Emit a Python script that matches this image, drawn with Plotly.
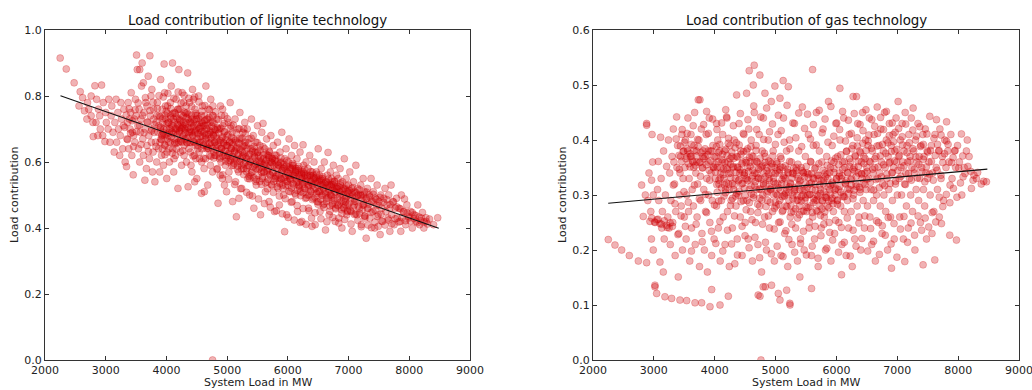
import plotly.graph_objects as go
from plotly.subplots import make_subplots

# --- Lignite: (system load in MW, load contribution), outer spread ---
lignite_points = [
    (2250, 0.915), (2350, 0.882), (2480, 0.840), (2580, 0.813), (2620, 0.795), (2700, 0.78), (2720, 0.76),
    (2650, 0.755), (2760, 0.80), (2790, 0.72), (2795, 0.677), (2690, 0.73), (2560, 0.77), (2760, 0.74),
    (2822, 0.831), (2932, 0.833), (2850, 0.79), (2880, 0.76), (2900, 0.74), (2910, 0.70), (2950, 0.68),
    (2987, 0.662), (2960, 0.78), (3000, 0.75), (3010, 0.72), (3040, 0.70), (3050, 0.79), (3070, 0.66),
    (3090, 0.74), (3100, 0.77), (3120, 0.69), (3140, 0.63), (3150, 0.72), (3170, 0.79), (3180, 0.66),
    (3200, 0.75), (3210, 0.70), (3230, 0.62), (3240, 0.68), (3250, 0.78), (3260, 0.73), (3280, 0.64),
    (3290, 0.71), (3300, 0.76), (2840, 0.72), (2870, 0.68),
    (3320, 0.60), (3343, 0.586), (3350, 0.67), (3360, 0.72), (3370, 0.78), (3380, 0.64), (3400, 0.70),
    (3410, 0.75), (3420, 0.81), (3430, 0.62), (3453, 0.561), (3460, 0.68), (3470, 0.73), (3480, 0.66),
    (3490, 0.79), (3508, 0.924), (3520, 0.88), (3530, 0.71), (3540, 0.64), (3550, 0.76), (3560, 0.60),
    (3570, 0.69), (3580, 0.73), (3590, 0.83), (3600, 0.90), (3610, 0.67), (3620, 0.62), (3630, 0.75),
    (3645, 0.545), (3650, 0.70), (3660, 0.78), (3670, 0.58), (3680, 0.65), (3690, 0.72), (3700, 0.86),
    (3710, 0.68), (3720, 0.61), (3727, 0.922), (3735, 0.74), (3745, 0.80), (3750, 0.66), (3760, 0.70),
    (3770, 0.57), (3780, 0.63), (3790, 0.76), (3800, 0.69), (3810, 0.54), (3560, 0.88), (3620, 0.84),
    (3440, 0.69), (3500, 0.74), (3390, 0.73), (3680, 0.77), (3760, 0.82), (3790, 0.73),
    (3820, 0.66), (3830, 0.72), (3840, 0.60), (3850, 0.78), (3860, 0.69), (3870, 0.64), (3880, 0.74),
    (3890, 0.57), (3900, 0.70), (3905, 0.85), (3910, 0.67), (3920, 0.62), (3930, 0.76), (3940, 0.72),
    (3950, 0.59), (3962, 0.897), (3965, 0.68), (3970, 0.81), (3980, 0.65), (3990, 0.73), (4000, 0.70),
    (4005, 0.55), (4010, 0.63), (4020, 0.77), (4030, 0.68), (4040, 0.72), (4050, 0.60), (4060, 0.66),
    (4070, 0.74), (4080, 0.83), (4090, 0.69), (4100, 0.90), (4105, 0.64), (4110, 0.71), (4120, 0.57),
    (4130, 0.75), (4140, 0.67), (4150, 0.62), (4160, 0.79), (4170, 0.70), (4180, 0.73), (4190, 0.52),
    (4200, 0.66), (4205, 0.88), (4210, 0.69), (4220, 0.76), (4230, 0.63), (4240, 0.72), (4250, 0.59),
    (4260, 0.81), (4270, 0.68), (4280, 0.74), (4290, 0.65), (4300, 0.70), (3875, 0.71), (3925, 0.68),
    (3985, 0.77), (4015, 0.67), (4045, 0.64), (4075, 0.70), (4115, 0.73), (4155, 0.69), (4195, 0.71),
    (4235, 0.67), (4275, 0.71), (4290, 0.62), (3845, 0.74), (3935, 0.64), (4025, 0.72), (4135, 0.66),
    (4185, 0.76), (4245, 0.70), (4065, 0.78), (4125, 0.61), (3895, 0.66), (3955, 0.70), (4165, 0.64),
    (4215, 0.73), (4255, 0.66), (4285, 0.78),
    (4310, 0.67), (4320, 0.72), (4330, 0.60), (4340, 0.75), (4350, 0.87), (4357, 0.525), (4360, 0.69),
    (4370, 0.64), (4380, 0.78), (4390, 0.70), (4400, 0.66), (4410, 0.73), (4420, 0.57), (4430, 0.82),
    (4440, 0.68), (4450, 0.71), (4460, 0.62), (4470, 0.76), (4480, 0.65), (4490, 0.70), (4500, 0.55),
    (4510, 0.74), (4520, 0.67), (4530, 0.80), (4540, 0.63), (4550, 0.72), (4560, 0.69), (4577, 0.505),
    (4580, 0.60), (4590, 0.77), (4600, 0.66), (4610, 0.71), (4620, 0.58), (4630, 0.74), (4640, 0.68),
    (4650, 0.83), (4660, 0.64), (4670, 0.70), (4680, 0.53), (4690, 0.76), (4700, 0.67), (4710, 0.62),
    (4720, 0.72), (4730, 0.79), (4740, 0.65), (4750, 0.69), (4760, 0.57), (4770, 0.74), (4780, 0.63),
    (4790, 0.70), (4800, 0.66), (4315, 0.70), (4335, 0.66), (4355, 0.73), (4375, 0.68), (4395, 0.63),
    (4415, 0.69), (4435, 0.72), (4455, 0.66), (4475, 0.69), (4495, 0.73), (4515, 0.64), (4535, 0.70),
    (4555, 0.66), (4575, 0.72), (4595, 0.68), (4615, 0.65), (4635, 0.71), (4655, 0.67), (4675, 0.73),
    (4695, 0.64), (4715, 0.69), (4735, 0.66), (4755, 0.72), (4775, 0.68), (4795, 0.62), (4325, 0.77),
    (4445, 0.79), (4545, 0.61), (4645, 0.61), (4725, 0.59), (4405, 0.59), (4485, 0.61), (4585, 0.64),
    (4765, 0.77), (4465, 0.54), (4625, 0.51), (4760, 0.0),
    (4810, 0.68), (4820, 0.62), (4830, 0.73), (4840, 0.58), (4850, 0.475), (4860, 0.66), (4870, 0.70),
    (4880, 0.64), (4890, 0.77), (4900, 0.60), (4910, 0.67), (4920, 0.55), (4930, 0.71), (4940, 0.63),
    (4950, 0.69), (4960, 0.74), (4970, 0.59), (4980, 0.65), (4990, 0.51), (5000, 0.68), (5010, 0.62),
    (5020, 0.72), (5030, 0.57), (5040, 0.66), (5050, 0.78), (5060, 0.61), (5070, 0.64), (5080, 0.69),
    (5090, 0.48), (5100, 0.59), (5110, 0.67), (5120, 0.63), (5130, 0.73), (5140, 0.54), (5152, 0.434),
    (5160, 0.66), (5170, 0.60), (5180, 0.70), (5190, 0.57), (5200, 0.64), (5210, 0.75), (5220, 0.61),
    (5230, 0.67), (5240, 0.52), (5250, 0.63), (5260, 0.69), (5270, 0.58), (5280, 0.65), (5290, 0.72),
    (5300, 0.60), (4815, 0.65), (4845, 0.70), (4875, 0.61), (4905, 0.64), (4935, 0.66), (4965, 0.62),
    (4995, 0.65), (5025, 0.60), (5055, 0.63), (5085, 0.66), (5115, 0.61), (5145, 0.64), (5175, 0.62),
    (5205, 0.67), (5235, 0.59), (5265, 0.62), (5295, 0.66), (4885, 0.56), (4955, 0.53), (5065, 0.71),
    (5195, 0.49), (5275, 0.70), (4925, 0.76),
    (5310, 0.65), (5320, 0.58), (5330, 0.70), (5340, 0.55), (5350, 0.62), (5360, 0.67), (5370, 0.50),
    (5380, 0.60), (5390, 0.64), (5400, 0.73), (5410, 0.57), (5420, 0.61), (5430, 0.68), (5440, 0.46),
    (5450, 0.59), (5460, 0.63), (5470, 0.66), (5480, 0.53), (5490, 0.60), (5500, 0.71), (5510, 0.56),
    (5520, 0.62), (5530, 0.58), (5540, 0.65), (5550, 0.44), (5560, 0.60), (5570, 0.69), (5580, 0.55),
    (5591, 0.717), (5600, 0.61), (5610, 0.57), (5620, 0.64), (5630, 0.51), (5640, 0.59), (5650, 0.67),
    (5660, 0.54), (5670, 0.62), (5680, 0.58), (5690, 0.48), (5700, 0.63), (5710, 0.56), (5720, 0.68),
    (5730, 0.60), (5740, 0.53), (5750, 0.57), (5760, 0.65), (5770, 0.59), (5780, 0.45), (5790, 0.61),
    (5800, 0.55), (5325, 0.61), (5355, 0.59), (5385, 0.56), (5415, 0.64), (5445, 0.62), (5475, 0.58),
    (5505, 0.63), (5535, 0.60), (5565, 0.57), (5595, 0.59), (5625, 0.60), (5655, 0.57), (5685, 0.62),
    (5715, 0.60), (5745, 0.61), (5775, 0.55),
    (5810, 0.62), (5820, 0.56), (5830, 0.66), (5840, 0.52), (5850, 0.59), (5860, 0.47), (5870, 0.63),
    (5880, 0.55), (5890, 0.60), (5900, 0.69), (5910, 0.53), (5920, 0.58), (5930, 0.50), (5947, 0.389),
    (5950, 0.61), (5960, 0.56), (5970, 0.64), (5980, 0.44), (5990, 0.57), (6000, 0.53), (6010, 0.60),
    (6020, 0.67), (6030, 0.55), (6040, 0.51), (6050, 0.58), (6060, 0.62), (6070, 0.48), (6080, 0.56),
    (6090, 0.59), (6100, 0.53), (6110, 0.65), (6120, 0.57), (6130, 0.50), (6140, 0.55), (6150, 0.61),
    (6160, 0.45), (6170, 0.58), (6180, 0.53), (6190, 0.56), (6200, 0.63), (6210, 0.51), (6220, 0.57),
    (6230, 0.42), (6240, 0.54), (6250, 0.652), (6260, 0.59), (6270, 0.52), (6280, 0.56), (6290, 0.49),
    (6300, 0.60), (5835, 0.58), (5865, 0.54), (5895, 0.57), (5925, 0.55), (5955, 0.58), (5985, 0.54),
    (6015, 0.56), (6045, 0.55), (6075, 0.59), (6105, 0.56), (6135, 0.58), (6165, 0.54), (6195, 0.52),
    (6225, 0.55), (6255, 0.57), (6285, 0.54),
    (6310, 0.55), (6320, 0.50), (6330, 0.58), (6340, 0.46), (6350, 0.53), (6360, 0.62), (6370, 0.56),
    (6380, 0.51), (6390, 0.43), (6400, 0.57), (6410, 0.53), (6420, 0.49), (6430, 0.60), (6440, 0.55),
    (6450, 0.41), (6460, 0.52), (6470, 0.57), (6480, 0.48), (6490, 0.54), (6500, 0.64), (6510, 0.51),
    (6520, 0.56), (6530, 0.45), (6540, 0.53), (6550, 0.58), (6560, 0.50), (6570, 0.55), (6580, 0.47),
    (6590, 0.52), (6600, 0.60), (6620, 0.394), (6630, 0.54), (6640, 0.49), (6650, 0.56), (6662, 0.629),
    (6670, 0.51), (6680, 0.44), (6690, 0.53), (6700, 0.57), (6710, 0.50), (6720, 0.55), (6730, 0.47),
    (6740, 0.52), (6750, 0.59), (6760, 0.49), (6770, 0.54), (6780, 0.42), (6790, 0.51), (6800, 0.56),
    (6335, 0.53), (6375, 0.54), (6415, 0.56), (6455, 0.54), (6495, 0.51), (6535, 0.55), (6575, 0.53),
    (6615, 0.51), (6655, 0.53), (6695, 0.50), (6735, 0.54), (6775, 0.52),
    (6810, 0.52), (6820, 0.47), (6830, 0.55), (6840, 0.43), (6850, 0.50), (6860, 0.58), (6870, 0.53),
    (6880, 0.48), (6890, 0.40), (6900, 0.54), (6910, 0.50), (6920, 0.46), (6930, 0.61), (6940, 0.52),
    (6950, 0.49), (6960, 0.55), (6970, 0.44), (6980, 0.51), (6990, 0.47), (7000, 0.53), (7020, 0.57),
    (7030, 0.49), (7040, 0.45), (7050, 0.52), (7060, 0.39), (7070, 0.50), (7080, 0.54), (7090, 0.47),
    (7100, 0.51), (7120, 0.59), (7130, 0.48), (7140, 0.44), (7150, 0.52), (7160, 0.50), (7180, 0.46),
    (7200, 0.53), (7210, 0.41), (7220, 0.49), (7240, 0.55), (7250, 0.47), (7260, 0.51), (7270, 0.43),
    (7290, 0.369), (7300, 0.49), (6855, 0.51), (6945, 0.48), (7015, 0.50), (7105, 0.48), (7195, 0.50),
    (7235, 0.47),
    (7310, 0.52), (7320, 0.46), (7340, 0.50), (7350, 0.43), (7370, 0.55), (7380, 0.48), (7400, 0.45),
    (7410, 0.51), (7430, 0.40), (7440, 0.49), (7460, 0.47), (7470, 0.53), (7490, 0.44), (7500, 0.48),
    (7520, 0.38), (7530, 0.50), (7550, 0.46), (7560, 0.42), (7580, 0.49), (7600, 0.52), (7610, 0.45),
    (7630, 0.47), (7650, 0.43), (7660, 0.50), (7680, 0.46), (7700, 0.530), (7710, 0.44), (7730, 0.48),
    (7750, 0.41), (7770, 0.46), (7790, 0.49), (7800, 0.43), (7680, 0.39), (7860, 0.39),
    (7830, 0.46), (7850, 0.42), (7870, 0.50), (7900, 0.45), (7921, 0.488), (7940, 0.41), (7960, 0.47),
    (7990, 0.43), (8020, 0.45), (8050, 0.40), (8080, 0.44), (8110, 0.42), (8140, 0.470), (8170, 0.41),
    (8200, 0.43), (8240, 0.40), (8280, 0.42), (8332, 0.427), (8400, 0.41), (8468, 0.431),
]

# --- Lignite: densely populated core of the band ---
lignite_core = [
    (3905, 0.705), (3918, 0.668), (3937, 0.731), (3946, 0.690), (3968, 0.652), (3977, 0.742), (3993, 0.684),
    (4008, 0.716), (4017, 0.748), (4033, 0.661), (4052, 0.701), (4063, 0.733), (4078, 0.676), (4086, 0.712),
    (4101, 0.746), (4112, 0.688), (4127, 0.721), (4139, 0.655), (4148, 0.701), (4163, 0.737), (4176, 0.682),
    (4188, 0.714), (4197, 0.760), (4213, 0.694), (4226, 0.726), (4238, 0.663), (4247, 0.742), (4261, 0.703),
    (4272, 0.677), (4284, 0.721), (4296, 0.751), (4307, 0.689), (4318, 0.713), (4332, 0.735), (4343, 0.671),
    (4356, 0.704), (4368, 0.745), (4379, 0.692), (4387, 0.659), (4401, 0.718), (4413, 0.741), (4427, 0.682),
    (4436, 0.706), (4449, 0.661), (4458, 0.728), (4471, 0.694), (4484, 0.748), (4497, 0.671), (4506, 0.713),
    (4518, 0.686), (4531, 0.731), (4543, 0.659), (4552, 0.702), (4566, 0.678), (4574, 0.741), (4588, 0.693),
    (4597, 0.718), (4611, 0.652), (4622, 0.688), (4633, 0.726), (4647, 0.673), (4658, 0.701), (4666, 0.648),
    (4679, 0.712), (4691, 0.684), (4703, 0.735), (4712, 0.657), (4724, 0.694), (4737, 0.672), (4749, 0.709),
    (4758, 0.641), (4771, 0.683), (4782, 0.718), (4794, 0.659), (4806, 0.697), (4817, 0.636), (4828, 0.672),
    (4839, 0.705), (4851, 0.651), (4863, 0.688), (4874, 0.627), (4886, 0.665), (4897, 0.702), (4908, 0.641),
    (4921, 0.676), (4933, 0.618), (4944, 0.657), (4956, 0.692), (4968, 0.634), (4979, 0.668), (4991, 0.612),
    (5003, 0.649), (5016, 0.683), (5027, 0.626), (5039, 0.661), (5051, 0.604), (5063, 0.641), (5074, 0.674),
    (5086, 0.617), (5098, 0.652), (5112, 0.596), (5124, 0.633), (5137, 0.666), (5149, 0.609), (5161, 0.644),
    (5173, 0.588), (5186, 0.624), (5198, 0.657), (5211, 0.601), (5224, 0.636), (5237, 0.579), (5249, 0.615),
    (5262, 0.648), (5274, 0.593), (5288, 0.628),
    (5305, 0.617), (5318, 0.571), (5331, 0.640), (5346, 0.589), (5359, 0.556), (5372, 0.624), (5386, 0.601),
    (5399, 0.568), (5413, 0.633), (5427, 0.585), (5441, 0.552), (5455, 0.615), (5468, 0.593), (5482, 0.547),
    (5496, 0.628), (5510, 0.578), (5523, 0.604), (5537, 0.541), (5551, 0.612), (5565, 0.583), (5578, 0.555),
    (5592, 0.621), (5606, 0.569), (5619, 0.594), (5633, 0.537), (5647, 0.606), (5661, 0.575), (5674, 0.548),
    (5688, 0.613), (5702, 0.562), (5716, 0.589), (5729, 0.531), (5743, 0.598), (5757, 0.567), (5771, 0.541),
    (5784, 0.604), (5798, 0.556), (5812, 0.582), (5826, 0.525), (5839, 0.591), (5853, 0.561), (5867, 0.535),
    (5881, 0.597), (5894, 0.548), (5908, 0.574), (5922, 0.519), (5936, 0.584), (5949, 0.553), (5963, 0.528),
    (5977, 0.588), (5991, 0.541), (6005, 0.566), (6018, 0.511), (6032, 0.577), (6046, 0.546), (6060, 0.521),
    (6073, 0.581), (6087, 0.534), (6101, 0.559), (6115, 0.505), (6128, 0.569), (6142, 0.538), (6156, 0.514),
    (6170, 0.574), (6183, 0.527), (6197, 0.551), (6211, 0.498), (6225, 0.562), (6238, 0.531), (6252, 0.507),
    (6266, 0.566), (6280, 0.519), (6293, 0.544), (6307, 0.492), (6321, 0.555), (6335, 0.524), (6348, 0.500),
    (6362, 0.559), (6376, 0.512), (6390, 0.537), (6403, 0.486), (6417, 0.548), (6431, 0.517), (6445, 0.493),
    (6458, 0.552), (6472, 0.505), (6486, 0.530), (6500, 0.479), (6513, 0.541), (6527, 0.510), (6541, 0.487),
    (6555, 0.545), (6568, 0.498), (6582, 0.523), (6596, 0.473), (6610, 0.534), (6623, 0.503), (6637, 0.480),
    (6651, 0.538), (6665, 0.491), (6678, 0.516), (6692, 0.467), (6706, 0.527), (6720, 0.496), (6733, 0.474),
    (6747, 0.531), (6761, 0.484), (6775, 0.509), (6788, 0.461), (6802, 0.520), (6816, 0.489), (6830, 0.467),
    (6843, 0.524), (6857, 0.477), (6871, 0.502), (6885, 0.455), (6898, 0.513), (6912, 0.482), (6926, 0.461),
    (6940, 0.517), (6953, 0.470), (6967, 0.495), (6981, 0.449), (6995, 0.506), (7010, 0.475), (7031, 0.452),
    (7052, 0.508), (7074, 0.463), (7095, 0.488), (7117, 0.443), (7138, 0.497), (7160, 0.466), (7181, 0.445),
    (7203, 0.499), (7224, 0.456), (7246, 0.479), (7268, 0.436), (7289, 0.488), (7311, 0.458), (7340, 0.472),
    (7372, 0.447), (7405, 0.480), (7438, 0.454), (7471, 0.435), (7503, 0.469), (7536, 0.442),
]

# --- Lignite: upper and lower fringes of the band ---
lignite_fringe = [
    (3312, 0.705), (3338, 0.742), (3361, 0.668), (3387, 0.761), (3409, 0.687), (3436, 0.725), (3458, 0.647),
    (3485, 0.758), (3507, 0.692), (3534, 0.779), (3556, 0.712), (3583, 0.653), (3605, 0.741), (3632, 0.689),
    (3654, 0.795), (3681, 0.721), (3703, 0.632), (3730, 0.756), (3752, 0.694), (3779, 0.781), (3801, 0.713),
    (3828, 0.647), (3850, 0.762), (3877, 0.801), (3899, 0.737), (3926, 0.683), (3948, 0.797), (3975, 0.622),
    (3997, 0.754), (4024, 0.808), (4046, 0.689), (4073, 0.762), (4095, 0.627), (4122, 0.793), (4144, 0.748),
    (4171, 0.658), (4193, 0.812), (4220, 0.704), (4242, 0.779), (4269, 0.634), (4291, 0.802), (4318, 0.748),
    (4340, 0.658), (4367, 0.793), (4389, 0.721), (4416, 0.768), (4438, 0.618), (4465, 0.797), (4487, 0.741),
    (4514, 0.651), (4536, 0.782), (4563, 0.708), (4585, 0.754), (4612, 0.611), (4634, 0.771), (4661, 0.729),
    (4683, 0.642), (4710, 0.758), (4732, 0.617), (4759, 0.741), (4781, 0.612), (4808, 0.752), (4830, 0.578),
    (4857, 0.729), (4879, 0.615), (4906, 0.741), (4928, 0.561), (4955, 0.717), (4977, 0.603), (5004, 0.731),
    (5026, 0.548), (5053, 0.702), (5075, 0.589), (5102, 0.712), (5124, 0.532), (5151, 0.689), (5173, 0.577),
    (5200, 0.701), (5222, 0.519), (5249, 0.673), (5271, 0.562), (5298, 0.686), (5320, 0.508), (5347, 0.658),
    (5369, 0.549), (5396, 0.672), (5418, 0.497), (5445, 0.647), (5467, 0.541), (5494, 0.659), (5516, 0.488),
    (5543, 0.636), (5565, 0.532), (5592, 0.646), (5614, 0.474), (5641, 0.624), (5663, 0.519), (5690, 0.633),
    (5712, 0.463), (5739, 0.611), (5761, 0.508), (5788, 0.621), (5810, 0.452), (5837, 0.601), (5859, 0.497),
    (5886, 0.612), (5908, 0.443), (5935, 0.592), (5957, 0.489), (5984, 0.604), (6006, 0.432), (6033, 0.583),
    (6055, 0.478), (6082, 0.596), (6104, 0.424), (6131, 0.574), (6153, 0.468), (6180, 0.587), (6202, 0.417),
    (6229, 0.566), (6251, 0.459), (6278, 0.578), (6300, 0.411), (6327, 0.559), (6349, 0.452), (6376, 0.571),
    (6398, 0.405), (6425, 0.551), (6447, 0.446), (6474, 0.563), (6496, 0.472), (6523, 0.545), (6545, 0.428),
    (6572, 0.556), (6594, 0.462), (6621, 0.538), (6643, 0.419), (6670, 0.549), (6692, 0.451), (6719, 0.531),
    (6741, 0.432), (6768, 0.542), (6790, 0.458), (6817, 0.526), (6839, 0.415), (6866, 0.536), (6888, 0.444),
    (6915, 0.519), (6937, 0.426), (6964, 0.529), (6986, 0.452), (7013, 0.514), (7041, 0.412), (7069, 0.522),
    (7097, 0.441), (7125, 0.507), (7153, 0.423), (7181, 0.516), (7209, 0.404), (7237, 0.501), (7265, 0.436),
    (7293, 0.509), (7321, 0.409), (7349, 0.494), (7377, 0.401), (7405, 0.502), (7433, 0.418), (7461, 0.487),
    (7489, 0.405), (7517, 0.493), (7545, 0.421), (7573, 0.478), (7601, 0.409), (7629, 0.486), (7657, 0.424),
    (7685, 0.471), (7713, 0.413), (7741, 0.479), (7769, 0.428), (7797, 0.464), (7825, 0.418), (7853, 0.458),
    (7881, 0.431), (7909, 0.449), (7937, 0.422), (7965, 0.446), (7993, 0.434), (8021, 0.421), (8049, 0.447),
    (8077, 0.429), (8105, 0.438), (8133, 0.416), (8161, 0.433), (8189, 0.422), (8217, 0.447), (8245, 0.418),
    (8273, 0.431), (8301, 0.412),
]

# --- Gas: (system load in MW, load contribution), outer spread ---
gas_points = [
    (2251, 0.219), (2361, 0.209), (2471, 0.200), (2597, 0.190), (2745, 0.180), (2881, 0.177),
    (2799, 0.318), (2826, 0.261), (2881, 0.430), (2882, 0.427), (2963, 0.327), (2936, 0.252),
    (2860, 0.30), (2900, 0.29), (2950, 0.27), (2980, 0.36), (2920, 0.34), (2990, 0.30), (2970, 0.41),
    (2960, 0.22), (2990, 0.20),
    (3018, 0.133), (3046, 0.121), (3182, 0.115), (3292, 0.112), (3429, 0.109), (3018, 0.136),
    (3100, 0.248), (3210, 0.245), (3111, 0.405), (3073, 0.361), (3210, 0.352), (3155, 0.160),
    (3100, 0.178), (3401, 0.151), (3374, 0.442), (3020, 0.25), (3050, 0.255), (3060, 0.31),
    (3080, 0.29), (3120, 0.33), (3140, 0.27), (3160, 0.38), (3170, 0.22), (3190, 0.30), (3230, 0.26),
    (3240, 0.40), (3260, 0.34), (3270, 0.21), (3280, 0.29), (3300, 0.37), (3310, 0.25), (3320, 0.42),
    (3340, 0.32), (3350, 0.19), (3360, 0.27), (3380, 0.35), (3390, 0.39), (3410, 0.23), (3420, 0.30),
    (3440, 0.37), (3450, 0.28), (3460, 0.41), (3470, 0.20), (3480, 0.33), (3490, 0.38), (3500, 0.26),
    (3130, 0.24), (3250, 0.24), (3330, 0.36), (3430, 0.34),
    (2965, 0.258), (3012, 0.251), (3068, 0.256), (3126, 0.247), (3172, 0.253), (3219, 0.241),
    (3268, 0.249), (3305, 0.243),
    (3539, 0.108), (3676, 0.104), (3785, 0.104), (3922, 0.097), (3950, 0.128), (3730, 0.473),
    (3757, 0.473), (3867, 0.452), (3510, 0.35), (3520, 0.40), (3530, 0.22), (3540, 0.30), (3555, 0.38),
    (3560, 0.44), (3570, 0.27), (3580, 0.33), (3590, 0.18), (3600, 0.37), (3610, 0.41), (3620, 0.24),
    (3630, 0.31), (3640, 0.36), (3650, 0.28), (3660, 0.39), (3670, 0.45), (3680, 0.21), (3690, 0.34),
    (3700, 0.38), (3710, 0.26), (3720, 0.32), (3740, 0.40), (3750, 0.17), (3760, 0.36), (3770, 0.29),
    (3780, 0.42), (3790, 0.23), (3800, 0.35), (3810, 0.38), (3820, 0.31), (3830, 0.20), (3840, 0.37),
    (3850, 0.27), (3860, 0.41), (3870, 0.33), (3880, 0.16), (3890, 0.36), (3900, 0.30), (3910, 0.44),
    (3920, 0.25), (3930, 0.38), (3940, 0.34), (3950, 0.19), (3960, 0.29), (3970, 0.39), (3980, 0.35),
    (3990, 0.22), (3615, 0.37), (3705, 0.36), (3805, 0.37), (3895, 0.38), (3545, 0.37), (3655, 0.35),
    (4031, 0.430), (4087, 0.100), (4195, 0.442), (4224, 0.116), (4360, 0.482), (4010, 0.33),
    (4020, 0.37), (4030, 0.28), (4040, 0.35), (4050, 0.40), (4060, 0.24), (4070, 0.32), (4080, 0.38),
    (4090, 0.18), (4100, 0.34), (4110, 0.29), (4120, 0.36), (4130, 0.41), (4140, 0.26), (4150, 0.33),
    (4160, 0.38), (4170, 0.21), (4180, 0.31), (4190, 0.35), (4200, 0.44), (4210, 0.27), (4220, 0.36),
    (4230, 0.32), (4240, 0.17), (4250, 0.39), (4260, 0.34), (4270, 0.29), (4280, 0.37), (4290, 0.24),
    (4300, 0.35), (4310, 0.31), (4320, 0.40), (4330, 0.175), (4340, 0.33), (4350, 0.28), (4360, 0.37),
    (4370, 0.22), (4380, 0.35), (4390, 0.30), (4400, 0.43), (4410, 0.34), (4420, 0.26), (4430, 0.38),
    (4440, 0.32), (4450, 0.19), (4460, 0.36), (4470, 0.29), (4480, 0.41), (4490, 0.34), (4500, 0.25),
    (4524, 0.485), (4567, 0.526), (4634, 0.500), (4649, 0.536), (4742, 0.518), (4744, 0.116),
    (4714, 0.118), (4796, 0.133), (4826, 0.485), (4830, 0.133), (4934, 0.136), (4989, 0.498),
    (4510, 0.33), (4520, 0.38), (4530, 0.29), (4540, 0.35), (4550, 0.22), (4560, 0.42), (4570, 0.31),
    (4580, 0.36), (4590, 0.27), (4600, 0.40), (4610, 0.33), (4620, 0.18), (4630, 0.37), (4640, 0.30),
    (4650, 0.45), (4660, 0.34), (4670, 0.25), (4680, 0.39), (4690, 0.31), (4700, 0.36), (4710, 0.21),
    (4720, 0.33), (4730, 0.41), (4740, 0.28), (4750, 0.35), (4760, 0.31), (4770, 0.16), (4780, 0.38),
    (4790, 0.30), (4800, 0.44), (4810, 0.34), (4820, 0.26), (4830, 0.37), (4840, 0.32), (4850, 0.20),
    (4860, 0.35), (4870, 0.29), (4880, 0.40), (4890, 0.33), (4900, 0.24), (4910, 0.36), (4920, 0.31),
    (4930, 0.47), (4940, 0.34), (4950, 0.27), (4960, 0.38), (4970, 0.30), (4980, 0.18), (4990, 0.35),
    (5000, 0.32), (4760, 0.0),
    (5072, 0.476), (5125, 0.508), (5209, 0.497), (5045, 0.121), (5072, 0.109), (5237, 0.100),
    (5235, 0.103), (5182, 0.127), (5399, 0.151), (5010, 0.28), (5020, 0.36), (5030, 0.30), (5040, 0.41),
    (5050, 0.25), (5060, 0.34), (5070, 0.29), (5080, 0.37), (5090, 0.19), (5100, 0.32), (5110, 0.27),
    (5120, 0.35), (5130, 0.44), (5140, 0.30), (5150, 0.23), (5160, 0.33), (5170, 0.28), (5180, 0.38),
    (5190, 0.31), (5200, 0.17), (5210, 0.34), (5220, 0.29), (5230, 0.40), (5240, 0.26), (5250, 0.32),
    (5260, 0.36), (5270, 0.21), (5280, 0.30), (5290, 0.34), (5300, 0.27), (5310, 0.43), (5320, 0.31),
    (5330, 0.24), (5340, 0.35), (5350, 0.29), (5360, 0.18), (5370, 0.33), (5380, 0.38), (5390, 0.28),
    (5400, 0.31), (5410, 0.22), (5420, 0.35), (5430, 0.27), (5440, 0.46), (5450, 0.30), (5460, 0.34),
    (5470, 0.20), (5480, 0.29), (5490, 0.37), (5500, 0.32),
    (5608, 0.528), (5591, 0.130), (5510, 0.27), (5520, 0.34), (5530, 0.30), (5540, 0.41), (5550, 0.24),
    (5560, 0.32), (5570, 0.28), (5580, 0.36), (5590, 0.19), (5600, 0.31), (5610, 0.26), (5620, 0.39),
    (5630, 0.33), (5640, 0.22), (5650, 0.29), (5660, 0.35), (5670, 0.45), (5680, 0.30), (5690, 0.27),
    (5700, 0.17), (5710, 0.33), (5720, 0.38), (5730, 0.28), (5740, 0.31), (5750, 0.24), (5760, 0.36),
    (5770, 0.29), (5780, 0.42), (5790, 0.32), (5800, 0.26), (5810, 0.34), (5820, 0.20), (5830, 0.30),
    (5840, 0.37), (5850, 0.28), (5860, 0.33), (5870, 0.47), (5880, 0.25), (5890, 0.31), (5900, 0.35),
    (5910, 0.18), (5920, 0.29), (5930, 0.39), (5940, 0.32), (5950, 0.27), (5960, 0.36), (5970, 0.23),
    (5980, 0.30), (5990, 0.43), (6000, 0.33),
    (6056, 0.494), (6084, 0.155), (6274, 0.479), (6330, 0.479), (6010, 0.29), (6020, 0.37), (6030, 0.31),
    (6040, 0.25), (6050, 0.34), (6060, 0.40), (6070, 0.28), (6080, 0.33), (6090, 0.21), (6100, 0.36),
    (6110, 0.30), (6120, 0.44), (6130, 0.27), (6140, 0.35), (6150, 0.32), (6160, 0.19), (6170, 0.38),
    (6180, 0.29), (6190, 0.34), (6200, 0.24), (6210, 0.41), (6220, 0.31), (6230, 0.36), (6240, 0.27),
    (6250, 0.33), (6260, 0.17), (6270, 0.39), (6280, 0.30), (6290, 0.35), (6300, 0.22), (6310, 0.37),
    (6320, 0.32), (6340, 0.28), (6350, 0.43), (6360, 0.34), (6370, 0.26), (6380, 0.38), (6390, 0.31),
    (6400, 0.20), (6410, 0.36), (6420, 0.33), (6430, 0.45), (6440, 0.29), (6450, 0.37), (6460, 0.24),
    (6470, 0.34), (6480, 0.40), (6490, 0.31), (6500, 0.35),
    (6905, 0.167), (6510, 0.28), (6520, 0.39), (6530, 0.33), (6540, 0.44), (6550, 0.26), (6560, 0.36),
    (6570, 0.31), (6580, 0.21), (6590, 0.38), (6600, 0.34), (6610, 0.29), (6620, 0.41), (6630, 0.35),
    (6640, 0.18), (6650, 0.37), (6660, 0.30), (6670, 0.46), (6680, 0.33), (6690, 0.25), (6700, 0.39),
    (6710, 0.34), (6720, 0.28), (6730, 0.42), (6740, 0.36), (6750, 0.23), (6760, 0.32), (6770, 0.38),
    (6780, 0.30), (6790, 0.45), (6800, 0.35), (6810, 0.27), (6820, 0.40), (6830, 0.33), (6840, 0.20),
    (6850, 0.37), (6860, 0.31), (6870, 0.43), (6880, 0.36), (6890, 0.26), (6900, 0.39), (6910, 0.34),
    (6920, 0.29), (6930, 0.41), (6940, 0.35), (6950, 0.22), (6960, 0.38), (6970, 0.32), (6980, 0.44),
    (6990, 0.36), (7000, 0.30),
    (7014, 0.470), (7123, 0.179), (7260, 0.458), (7424, 0.173), (7020, 0.37), (7030, 0.33), (7040, 0.26),
    (7050, 0.40), (7060, 0.35), (7070, 0.30), (7080, 0.43), (7090, 0.36), (7100, 0.22), (7110, 0.38),
    (7120, 0.32), (7130, 0.45), (7140, 0.34), (7150, 0.28), (7160, 0.39), (7170, 0.36), (7180, 0.24),
    (7190, 0.41), (7200, 0.33), (7210, 0.37), (7220, 0.30), (7230, 0.44), (7240, 0.35), (7250, 0.27),
    (7270, 0.38), (7280, 0.34), (7290, 0.20), (7300, 0.40), (7310, 0.31), (7320, 0.36), (7340, 0.43),
    (7350, 0.29), (7360, 0.37), (7370, 0.33), (7380, 0.25), (7390, 0.39), (7400, 0.35), (7420, 0.41),
    (7430, 0.31), (7440, 0.37), (7450, 0.28), (7460, 0.42), (7470, 0.34), (7480, 0.22), (7490, 0.38),
    (7500, 0.33),
    (7534, 0.443), (7616, 0.182), (7644, 0.437), (7726, 0.248), (7808, 0.398), (7810, 0.433),
    (7862, 0.227), (7867, 0.318), (7917, 0.368), (7972, 0.218), (7520, 0.36), (7540, 0.30), (7560, 0.39),
    (7580, 0.34), (7600, 0.27), (7620, 0.41), (7640, 0.35), (7660, 0.31), (7680, 0.38), (7700, 0.42),
    (7720, 0.33), (7740, 0.37), (7760, 0.29), (7780, 0.40), (7800, 0.35), (7830, 0.38), (7850, 0.36),
    (7880, 0.41), (7900, 0.33), (7940, 0.38), (7960, 0.35), (7990, 0.39), (7570, 0.23), (7690, 0.26),
    (8054, 0.411), (8081, 0.333), (8136, 0.380), (8218, 0.312), (8245, 0.327), (8465, 0.324),
    (8020, 0.36), (8100, 0.35), (8180, 0.37), (8300, 0.33), (8380, 0.32), (8420, 0.325), (8060, 0.30),
    (8150, 0.40),
]

# --- Gas: densely populated core of the cloud ---
gas_core = [
    (3412, 0.372), (3436, 0.389), (3458, 0.361), (3481, 0.379), (3503, 0.396), (3527, 0.366), (3549, 0.384),
    (3572, 0.357), (3594, 0.375), (3617, 0.392), (3639, 0.362), (3662, 0.381), (3684, 0.354), (3707, 0.371),
    (3729, 0.388), (3752, 0.359), (3774, 0.377), (3797, 0.349), (3819, 0.366), (3842, 0.384), (3864, 0.355),
    (3887, 0.373), (3909, 0.345), (3932, 0.362), (3954, 0.380), (3977, 0.351), (3999, 0.369),
    (4012, 0.342), (4028, 0.388), (4041, 0.305), (4057, 0.361), (4069, 0.327), (4083, 0.392), (4098, 0.349),
    (4111, 0.313), (4126, 0.374), (4139, 0.337), (4153, 0.298), (4168, 0.359), (4181, 0.383), (4194, 0.322),
    (4209, 0.347), (4222, 0.394), (4236, 0.309), (4251, 0.366), (4264, 0.331), (4279, 0.378), (4292, 0.294),
    (4306, 0.352), (4319, 0.318), (4334, 0.386), (4347, 0.341), (4361, 0.303), (4376, 0.369), (4389, 0.326),
    (4403, 0.391), (4417, 0.346), (4431, 0.288), (4444, 0.357), (4459, 0.321), (4472, 0.379), (4486, 0.336),
    (4499, 0.299), (4514, 0.363), (4527, 0.329), (4541, 0.384), (4556, 0.343), (4569, 0.286), (4583, 0.352),
    (4597, 0.317), (4611, 0.371), (4624, 0.335), (4638, 0.295), (4652, 0.358), (4666, 0.324), (4679, 0.381),
    (4693, 0.339), (4707, 0.283), (4721, 0.347), (4734, 0.311), (4748, 0.367), (4762, 0.329), (4776, 0.291),
    (4789, 0.354), (4803, 0.318), (4817, 0.376), (4831, 0.333), (4844, 0.279), (4858, 0.344), (4872, 0.307),
    (4886, 0.362), (4899, 0.326), (4913, 0.287), (4927, 0.351), (4941, 0.313), (4954, 0.371), (4968, 0.331),
    (4982, 0.276), (4996, 0.339), (5009, 0.302), (5023, 0.357), (5037, 0.321), (5051, 0.283), (5065, 0.346),
    (5078, 0.309), (5092, 0.366), (5106, 0.328), (5120, 0.272), (5133, 0.335), (5147, 0.298), (5161, 0.353),
    (5175, 0.317), (5188, 0.279), (5202, 0.341), (5216, 0.304), (5230, 0.361), (5243, 0.322), (5257, 0.268),
    (5271, 0.331), (5285, 0.293), (5298, 0.349), (5312, 0.313), (5326, 0.275), (5340, 0.337), (5353, 0.299),
    (5367, 0.356), (5381, 0.318), (5395, 0.264), (5408, 0.327), (5422, 0.289), (5436, 0.344), (5450, 0.308),
    (5463, 0.271), (5477, 0.333), (5491, 0.295),
    (5505, 0.352), (5519, 0.314), (5533, 0.277), (5546, 0.338), (5560, 0.301), (5574, 0.361), (5588, 0.322),
    (5601, 0.268), (5615, 0.331), (5629, 0.293), (5643, 0.348), (5656, 0.309), (5670, 0.272), (5684, 0.336),
    (5698, 0.298), (5711, 0.357), (5725, 0.318), (5739, 0.263), (5753, 0.327), (5766, 0.289), (5780, 0.345),
    (5794, 0.306), (5808, 0.269), (5821, 0.333), (5835, 0.295), (5849, 0.354), (5863, 0.315), (5876, 0.277),
    (5890, 0.341), (5904, 0.302), (5918, 0.362), (5931, 0.323), (5945, 0.284), (5959, 0.348), (5973, 0.309),
    (5986, 0.367), (6001, 0.329), (6019, 0.291), (6037, 0.355), (6055, 0.316), (6073, 0.373), (6091, 0.335),
    (6109, 0.297), (6127, 0.361), (6145, 0.322), (6163, 0.379), (6181, 0.341), (6199, 0.303), (6217, 0.366),
    (6235, 0.328), (6253, 0.384), (6271, 0.347), (6289, 0.309), (6307, 0.372), (6325, 0.334), (6343, 0.389),
    (6361, 0.352), (6379, 0.314), (6397, 0.377), (6415, 0.339), (6433, 0.394), (6451, 0.357), (6469, 0.319),
    (6487, 0.381), (6505, 0.343), (6523, 0.398), (6541, 0.361), (6559, 0.323), (6577, 0.385), (6595, 0.347),
    (6613, 0.309), (6631, 0.366), (6649, 0.328), (6667, 0.389), (6685, 0.351), (6703, 0.313), (6721, 0.371),
    (6739, 0.333), (6757, 0.392), (6775, 0.355), (6793, 0.317), (6811, 0.376), (6829, 0.338), (6847, 0.395),
    (6865, 0.358), (6883, 0.321), (6901, 0.379), (6919, 0.341), (6937, 0.397), (6955, 0.362), (6973, 0.325),
    (6991, 0.383), (7012, 0.345), (7036, 0.372), (7061, 0.334), (7085, 0.391), (7110, 0.353), (7134, 0.319),
    (7159, 0.377), (7183, 0.339), (7208, 0.362), (7232, 0.327), (7257, 0.384), (7281, 0.347), (7306, 0.369),
    (7330, 0.331), (7355, 0.356), (7379, 0.388), (7404, 0.342), (7428, 0.365), (7453, 0.324), (7477, 0.351),
    (7502, 0.378), (7530, 0.338), (7561, 0.361), (7592, 0.327), (7623, 0.372), (7654, 0.345), (7686, 0.381),
    (7717, 0.336), (7748, 0.359),
    (4006, 0.356), (4034, 0.319), (4062, 0.377), (4091, 0.331), (4119, 0.364), (4147, 0.347), (4176, 0.304),
    (4204, 0.372), (4232, 0.339), (4261, 0.356), (4289, 0.321), (4317, 0.367), (4346, 0.298), (4374, 0.351),
    (4402, 0.328), (4431, 0.374), (4459, 0.341), (4487, 0.312), (4516, 0.359), (4544, 0.326), (4572, 0.368),
    (4601, 0.302), (4629, 0.345), (4657, 0.317), (4686, 0.361), (4714, 0.331), (4742, 0.294), (4771, 0.352),
    (4799, 0.321), (4827, 0.359), (4856, 0.303), (4884, 0.338), (4912, 0.311), (4941, 0.357), (4969, 0.324),
    (4997, 0.287), (5026, 0.344), (5054, 0.313), (5082, 0.351), (5111, 0.297), (5139, 0.331), (5167, 0.303),
    (5196, 0.347), (5224, 0.315), (5252, 0.281), (5281, 0.339), (5309, 0.307), (5337, 0.344), (5366, 0.291),
    (5394, 0.325), (5422, 0.297), (5451, 0.341), (5479, 0.309), (5507, 0.278), (5536, 0.332), (5564, 0.301),
    (5592, 0.339), (5621, 0.286), (5649, 0.319), (5677, 0.291), (5706, 0.336), (5734, 0.303), (5762, 0.275),
    (5791, 0.327), (5819, 0.296), (5847, 0.338), (5876, 0.289), (5904, 0.318), (5932, 0.294), (5961, 0.341),
    (5989, 0.312), (6017, 0.283), (6046, 0.334), (6074, 0.305), (6102, 0.347), (6131, 0.297), (6159, 0.326),
    (6187, 0.311), (6216, 0.352), (6244, 0.318), (6272, 0.293), (6301, 0.343), (6329, 0.316), (6357, 0.361),
    (6386, 0.305), (6414, 0.338), (6442, 0.322), (6471, 0.366), (6499, 0.329),
]

# --- Gas: wider scatter around the core ---
gas_fringe = [
    (3320, 0.318), (3347, 0.284), (3366, 0.402), (3395, 0.228), (3418, 0.347), (3447, 0.262), (3466, 0.419),
    (3495, 0.306), (3518, 0.243), (3547, 0.412), (3566, 0.287), (3595, 0.351), (3618, 0.198), (3647, 0.426),
    (3666, 0.318), (3695, 0.247), (3718, 0.401), (3747, 0.293), (3766, 0.334), (3795, 0.215), (3818, 0.428),
    (3847, 0.301), (3866, 0.268), (3895, 0.412), (3918, 0.327), (3947, 0.234), (3966, 0.438), (3995, 0.282),
    (4018, 0.212), (4037, 0.419), (4066, 0.289), (4085, 0.252), (4114, 0.431), (4133, 0.198), (4162, 0.318),
    (4181, 0.455), (4210, 0.236), (4229, 0.403), (4258, 0.281), (4277, 0.211), (4306, 0.426), (4325, 0.262),
    (4354, 0.395), (4373, 0.191), (4402, 0.307), (4421, 0.448), (4450, 0.243), (4469, 0.412), (4498, 0.226),
    (4517, 0.273), (4546, 0.437), (4565, 0.204), (4594, 0.388), (4613, 0.255), (4642, 0.462), (4661, 0.223),
    (4690, 0.419), (4709, 0.268), (4738, 0.186), (4757, 0.442), (4786, 0.247), (4805, 0.401), (4834, 0.214),
    (4853, 0.458), (4882, 0.262), (4901, 0.415), (4930, 0.193), (4949, 0.429), (4978, 0.238), (4997, 0.392),
    (5026, 0.207), (5045, 0.445), (5074, 0.251), (5093, 0.417), (5122, 0.188), (5141, 0.396), (5170, 0.235),
    (5189, 0.463), (5218, 0.219), (5237, 0.384), (5266, 0.247), (5285, 0.431), (5314, 0.196), (5333, 0.404),
    (5362, 0.258), (5381, 0.449), (5410, 0.212), (5429, 0.388), (5458, 0.234), (5477, 0.421), (5506, 0.191),
    (5525, 0.447), (5554, 0.251), (5573, 0.402), (5602, 0.207), (5621, 0.428), (5650, 0.243), (5669, 0.391),
    (5698, 0.185), (5717, 0.454), (5746, 0.226), (5765, 0.413), (5794, 0.247), (5813, 0.438), (5842, 0.203),
    (5861, 0.396), (5890, 0.232), (5909, 0.461), (5938, 0.218), (5957, 0.407), (5986, 0.254), (6005, 0.431),
    (6034, 0.196), (6053, 0.419), (6082, 0.241), (6101, 0.452), (6130, 0.214), (6149, 0.398), (6178, 0.258),
    (6197, 0.436), (6226, 0.189), (6245, 0.412), (6274, 0.236), (6293, 0.448), (6322, 0.207), (6341, 0.404),
    (6370, 0.249), (6389, 0.428), (6418, 0.221), (6437, 0.417), (6466, 0.262), (6485, 0.455), (6514, 0.198),
    (6533, 0.409), (6562, 0.239), (6581, 0.437), (6610, 0.216), (6629, 0.425), (6658, 0.253), (6677, 0.412),
    (6706, 0.192), (6725, 0.441), (6754, 0.244), (6773, 0.419), (6802, 0.227), (6821, 0.452), (6850, 0.259),
    (6869, 0.408), (6898, 0.211), (6917, 0.431), (6946, 0.248), (6965, 0.414), (6994, 0.187),
    (7023, 0.421), (7052, 0.238), (7081, 0.406), (7110, 0.261), (7139, 0.429), (7168, 0.214), (7197, 0.395),
    (7226, 0.249), (7255, 0.418), (7284, 0.227), (7313, 0.407), (7342, 0.262), (7371, 0.424), (7400, 0.236),
    (7429, 0.392), (7458, 0.258), (7487, 0.411), (7516, 0.242), (7545, 0.381), (7574, 0.268), (7603, 0.403),
    (7632, 0.251), (7661, 0.392), (7690, 0.296), (7719, 0.409), (7748, 0.279), (7777, 0.375), (7806, 0.301),
    (7835, 0.392), (7864, 0.286), (7893, 0.359), (7922, 0.312), (7951, 0.381), (7980, 0.296), (8009, 0.349),
    (8038, 0.322), (8075, 0.371), (8112, 0.339), (8160, 0.352), (8205, 0.343), (8260, 0.336), (8320, 0.341),
]

# Fitted trend lines (end points)
lignite_fit_load = [2255, 8485]
lignite_fit_share = [0.801, 0.399]
gas_fit_load = [2250, 8480]
gas_fit_share = [0.285, 0.347]

titles = ["Load contribution of lignite technology", "Load contribution of gas technology"]
x_ticks = [2000, 3000, 4000, 5000, 6000, 7000, 8000, 9000]
lignite_y_ticks = [0.0, 0.2, 0.4, 0.6, 0.8, 1.0]
gas_y_ticks = [0.0, 0.1, 0.2, 0.3, 0.4, 0.5, 0.6]

W, H = 1032, 390
FONT = "DejaVu Sans"
TXT = "#222222"
DOT = "rgba(205,0,5,0.3)"

fig = make_subplots(rows=1, cols=2)

panels = [
    (lignite_points + lignite_core + lignite_fringe, lignite_fit_load, lignite_fit_share,
     lignite_y_ticks, 1.0, (45, 470)),
    (gas_points + gas_core + gas_fringe, gas_fit_load, gas_fit_share,
     gas_y_ticks, 0.6, (593, 1019)),
]

for i, (pts, fx, fy, yt, ymax, (px0, px1)) in enumerate(panels, start=1):
    xs = [p[0] for p in pts]
    ys = [p[1] for p in pts]
    fig.add_trace(go.Scatter(
        x=xs, y=ys, mode="markers",
        marker=dict(size=7, color=DOT, line=dict(color=DOT, width=0.8)),
        hoverinfo="skip", showlegend=False), row=1, col=i)
    fig.add_trace(go.Scatter(
        x=fx, y=fy, mode="lines", line=dict(color="#111111", width=1.1),
        hoverinfo="skip", showlegend=False), row=1, col=i)

    axis_common = dict(showline=True, linecolor="#333333", linewidth=1, mirror="ticks",
                       ticks="inside", ticklen=4, tickcolor="#333333", showgrid=False,
                       zeroline=False, automargin=False, ticklabeloverflow="allow",
                       tickfont=dict(family=FONT, size=11, color=TXT))
    fig.update_xaxes(range=[2000, 9000], tickvals=x_ticks, ticktext=[str(t) for t in x_ticks],
                     domain=[px0 / W, px1 / W], ticklabelstandoff=0,
                     **axis_common, row=1, col=i)
    fig.update_yaxes(range=[0, ymax], tickvals=yt, ticktext=[f"{t:.1f}" for t in yt],
                     domain=[1 - 360 / H, 1 - 30 / H],
                     **axis_common, row=1, col=i)

    cx = (px0 + px1) / 2 / W
    fig.add_annotation(text=titles[i - 1], x=cx, y=1 - 20 / H, xref="paper", yref="paper",
                       xanchor="center", yanchor="middle", showarrow=False,
                       font=dict(family=FONT, size=13.4, color="#111111"))
    fig.add_annotation(text="System Load in MW", x=cx, y=1 - 382 / H, xref="paper", yref="paper",
                       xanchor="center", yanchor="middle", showarrow=False,
                       font=dict(family=FONT, size=11, color=TXT))
    fig.add_annotation(text="Load contribution", x=(px0 - 31) / W, y=1 - 195 / H,
                       xref="paper", yref="paper", xanchor="center", yanchor="middle",
                       textangle=-90, showarrow=False, font=dict(family=FONT, size=11, color=TXT))

fig.update_layout(width=W, height=H, margin=dict(l=0, r=0, t=0, b=0),
                  plot_bgcolor="white", paper_bgcolor="white")

fig.write_html("out.html")
